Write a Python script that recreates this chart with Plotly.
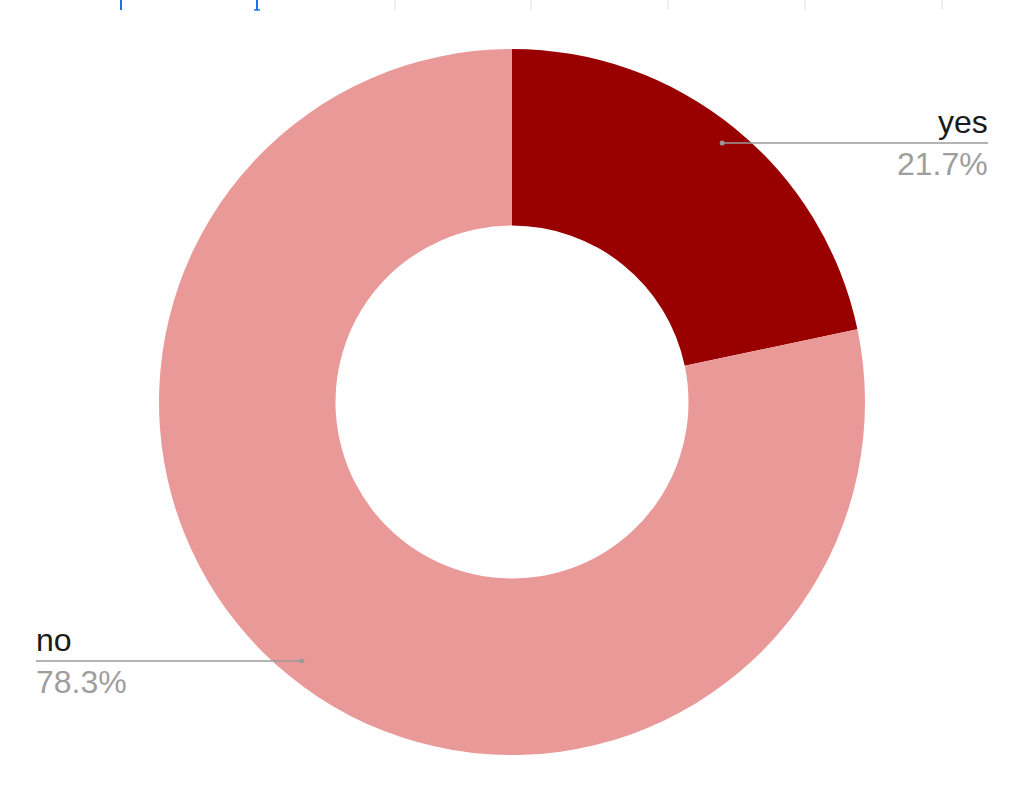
import math
import plotly.graph_objects as go

# Data
labels = ["yes", "no"]
values = [21.7, 78.3]
colors = ["#990000", "#ea9999"]

W, H = 1024, 789
cx, cy, R = 512, 402, 353  # pie geometry in pixels

def px(x):
    return x / W

def py(y):
    return 1 - y / H

fig = go.Figure()
fig.add_trace(go.Pie(
    labels=labels,
    values=values,
    hole=0.5,
    sort=False,
    direction="clockwise",
    rotation=0,
    marker=dict(colors=colors, line=dict(width=0)),
    textinfo="none",
    hoverinfo="label+percent",
    showlegend=False,
    domain=dict(x=[px(cx - R), px(cx + R)], y=[py(cy + R), py(cy - R)]),
))

shapes = []
annotations = []
total = sum(values)
cum = 0.0
line_x = {"yes": 988, "no": 36}
for lab, v in zip(labels, values):
    mid = (cum + v / 2) / total * 2 * math.pi
    cum += v
    r = 0.945 * R
    dx = cx + r * math.sin(mid)
    dy = cy - r * math.cos(mid)
    right = math.sin(mid) >= 0
    lx = line_x[lab]
    tx = lx + (2 if right else -2)
    shapes.append(dict(type="line", xref="paper", yref="paper",
                       x0=px(dx), x1=px(lx), y0=py(dy), y1=py(dy),
                       line=dict(color="#9a9a9a", width=1.3)))
    shapes.append(dict(type="circle", xref="paper", yref="paper",
                       x0=px(dx - 2.5), x1=px(dx + 2.5), y0=py(dy + 2.5), y1=py(dy - 2.5),
                       fillcolor="#9a9a9a", line=dict(width=0)))
    annotations.append(dict(xref="paper", yref="paper", x=px(tx), y=py(dy - 1),
                            text=lab, showarrow=False,
                            xanchor="right" if right else "left", yanchor="bottom",
                            font=dict(family="Arial, Liberation Sans", size=32, color="#1a1a1a")))
    annotations.append(dict(xref="paper", yref="paper", x=px(tx), y=py(dy + 1),
                            text=f"{v / total * 100:.1f}%", showarrow=False,
                            xanchor="right" if right else "left", yanchor="top",
                            font=dict(family="Arial, Liberation Sans", size=32, color="#9e9e9e")))

# top decoration (partial grid ticks from the screenshot)
for gx in [395, 531, 668, 805, 942]:
    shapes.append(dict(type="line", xref="paper", yref="paper",
                       x0=px(gx), x1=px(gx), y0=1, y1=py(10),
                       line=dict(color="#e0e0e0", width=1)))
for bx in [121, 257]:
    shapes.append(dict(type="line", xref="paper", yref="paper",
                       x0=px(bx), x1=px(bx), y0=1, y1=py(10),
                       line=dict(color="#1a73e8", width=2)))
shapes.append(dict(type="line", xref="paper", yref="paper",
                   x0=px(254), x1=px(260), y0=py(10), y1=py(10),
                   line=dict(color="#1a73e8", width=1.5)))

fig.update_layout(
    width=W, height=H,
    margin=dict(l=0, r=0, t=0, b=0),
    paper_bgcolor="white",
    plot_bgcolor="white",
    shapes=shapes,
    annotations=annotations,
)

fig.write_html("out.html",
               config={"displayModeBar": False},
               post_script="document.body.style.margin='0';document.body.style.overflow='hidden';")
